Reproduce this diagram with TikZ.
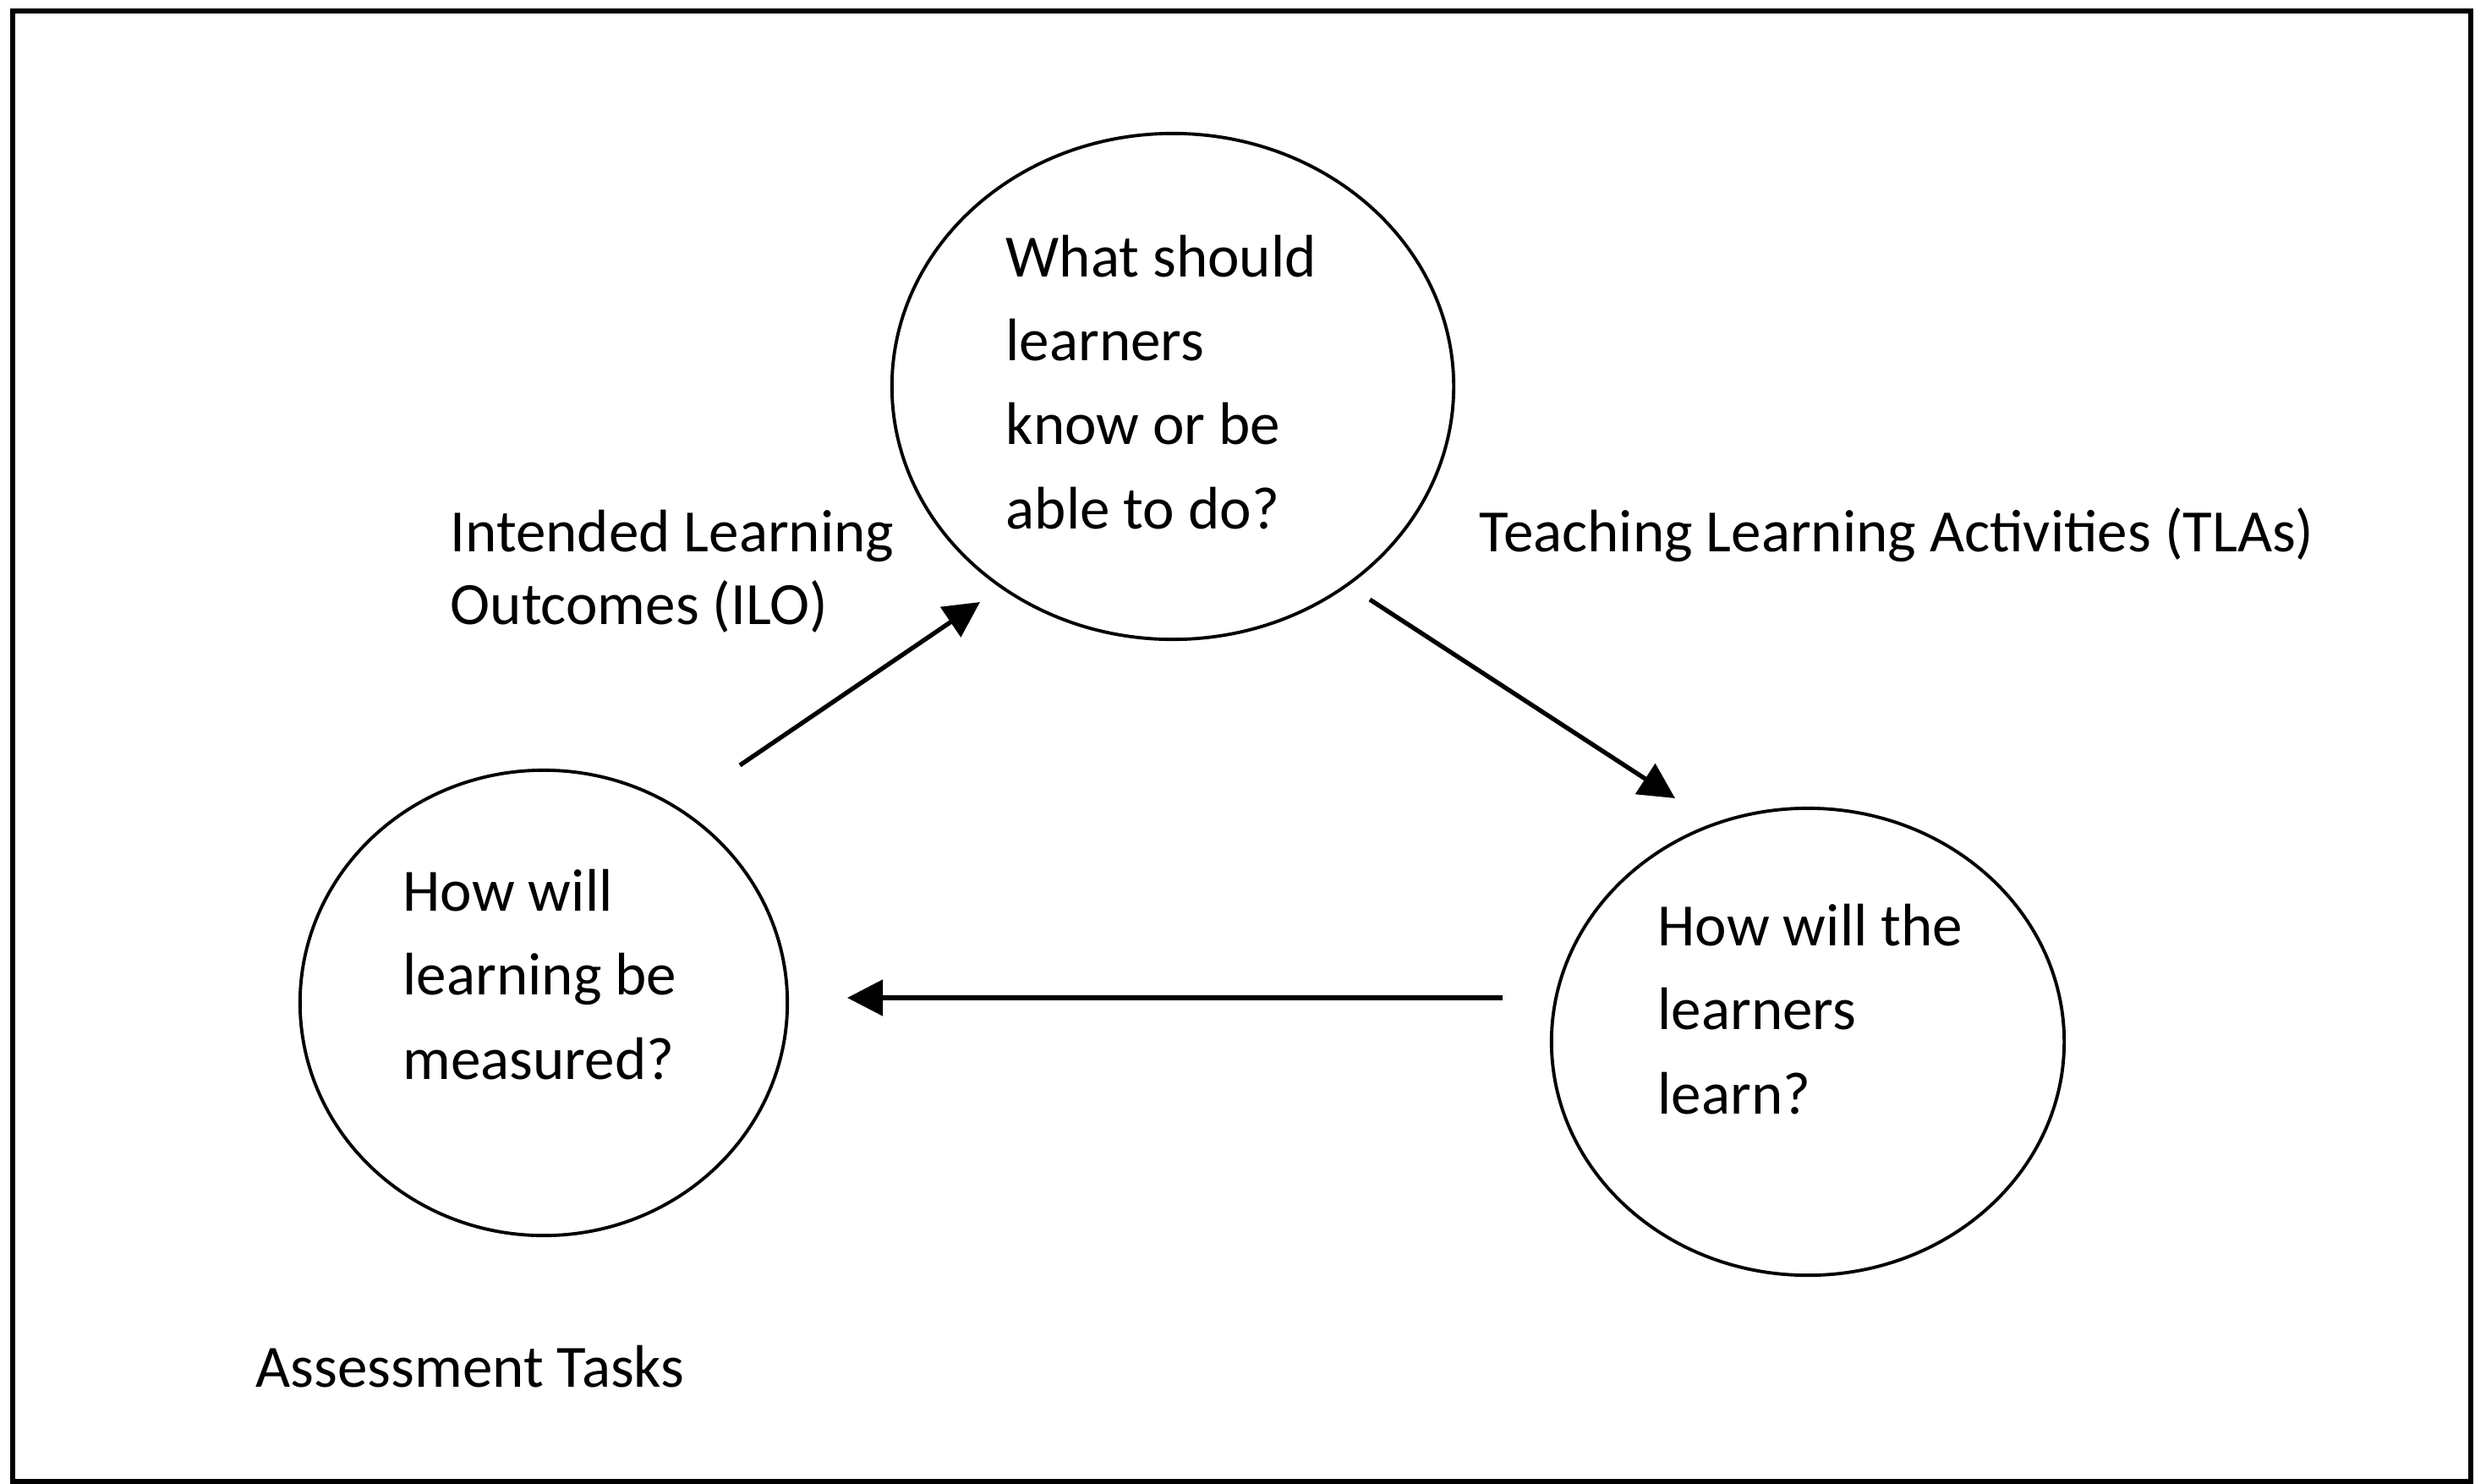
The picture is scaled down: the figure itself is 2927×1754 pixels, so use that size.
\documentclass[tikz,border=0pt]{standalone}
\usepackage{fontspec}
\setmainfont{Carlito}
\usetikzlibrary{shapes.geometric,arrows.meta}
\begin{document}
\begin{tikzpicture}[x=0.01cm,y=-0.01cm,
  circ/.style={draw, ellipse, line width=1.1pt, inner sep=0pt},
  qtext/.style={anchor=base west, align=left, inner sep=0pt, font=\fontsize{20.2}{28.2}\selectfont},
  lbl/.style={anchor=base west, align=left, inner sep=0pt, font=\fontsize{20.2}{24.4}\selectfont},
  arr/.style={line width=1.5pt, -{Triangle[length=12pt, width=12pt]}}]
\useasboundingbox (0,0) rectangle (2927,1754);
\draw[line width=1.6pt] (15,13) rectangle (2922,1752);
% ellipses
\node[circ, minimum width=6.64cm, minimum height=5.98cm] (top) at (1387,457) {};
\node[circ, minimum width=5.76cm, minimum height=5.50cm] (left) at (643,1186) {};
\node[circ, minimum width=6.06cm, minimum height=5.52cm] (right) at (2138,1232) {};
% texts in ellipses (anchor = baseline of last line)
\node[qtext] (ttop) at (1189,625) {What should\\learners\\know or be\\able to do?};
\node[qtext] (tleft) at (476,1276) {How will\\learning be\\measured?};
\node[qtext] (tright) at (1960,1317) {How will the\\learners\\learn?};
% labels
\node[lbl] (ilo) at (532,738) {Intended Learning\\Outcomes (ILO)};
\node[lbl] (tla) at (1749,652) {Teaching Learning Activities (TLAs)};
\node[lbl] (at) at (302,1640) {Assessment Tasks};
% arrow ends
\coordinate (a1s) at (875,905);
\coordinate (a1e) at (1159,712);
\coordinate (a2s) at (1620,709);
\coordinate (a2e) at (1981,944);
\coordinate (a3s) at (1777,1180);
\coordinate (a3e) at (1002,1180);
\draw[arr] (a1s) -- (a1e);
\draw[arr] (a2s) -- (a2e);
\draw[arr] (a3s) -- (a3e);
\end{tikzpicture}
\end{document}
